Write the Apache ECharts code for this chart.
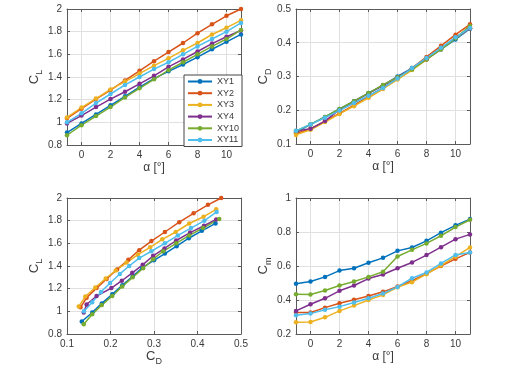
<!DOCTYPE html>
<html><head><meta charset="utf-8">
<script src="https://cdn.jsdelivr.net/npm/echarts@6/dist/echarts.min.js"></script>
<style>html,body{margin:0;padding:0;background:#fff}#c{width:519px;height:378px}</style>
</head><body><div id="c"></div>
<script>
const alpha = [-1,0,1,2,3,4,5,6,7,8,9,10,11];
const names = ['XY1','XY2','XY3','XY4','XY10','XY11'];
const colors = ['#0072BD','#D95319','#EDB120','#7E2F8E','#77AC30','#4DBEEE'];
const alphaTicks = [0,2,4,6,8,10];

const CL_XY1  = [0.91,0.99,1.07,1.15,1.23,1.31,1.385,1.45,1.51,1.575,1.645,1.71,1.776];
const CL_XY2  = [1.035,1.12,1.205,1.285,1.37,1.455,1.54,1.62,1.70,1.787,1.865,1.94,2.0];
const CL_XY3  = [1.043,1.13,1.21,1.29,1.36,1.43,1.50,1.565,1.635,1.70,1.775,1.835,1.90];
const CL_XY4  = [0.99,1.06,1.135,1.205,1.27,1.34,1.41,1.49,1.555,1.625,1.695,1.755,1.81];
const CL_XY10 = [0.886,0.975,1.055,1.135,1.22,1.30,1.38,1.46,1.53,1.60,1.67,1.735,1.815];
const CL_XY11 = [1.0,1.08,1.17,1.25,1.33,1.40,1.47,1.53,1.60,1.67,1.735,1.80,1.877];

const CD_XY1  = [0.134,0.158,0.18,0.204,0.227,0.251,0.273,0.300,0.325,0.352,0.380,0.410,0.4415];
const CD_XY2  = [0.131,0.145,0.168,0.191,0.215,0.241,0.266,0.294,0.325,0.358,0.391,0.424,0.4545];
const CD_XY3  = [0.127,0.142,0.165,0.189,0.212,0.237,0.263,0.291,0.319,0.350,0.381,0.414,0.443];
const CD_XY4  = [0.1385,0.145,0.168,0.202,0.226,0.250,0.274,0.298,0.324,0.351,0.383,0.415,0.443];
const CD_XY10 = [0.1385,0.158,0.18,0.204,0.227,0.251,0.275,0.298,0.321,0.351,0.381,0.413,0.450];
const CD_XY11 = [0.139,0.158,0.178,0.199,0.2215,0.243,0.266,0.294,0.325,0.355,0.385,0.416,0.444];

const CM_XY1  = [0.495,0.509,0.536,0.573,0.587,0.619,0.648,0.689,0.709,0.748,0.796,0.839,0.876];
const CM_XY2  = [0.326,0.326,0.355,0.381,0.402,0.424,0.448,0.479,0.513,0.555,0.600,0.642,0.680];
const CM_XY3  = [0.269,0.271,0.298,0.336,0.367,0.400,0.430,0.475,0.505,0.552,0.603,0.655,0.709];
const CM_XY4  = [0.336,0.375,0.410,0.454,0.485,0.526,0.550,0.587,0.621,0.664,0.711,0.758,0.786];
const CM_XY10 = [0.434,0.432,0.456,0.485,0.509,0.536,0.566,0.656,0.695,0.733,0.778,0.829,0.872];
const CM_XY11 = [0.310,0.320,0.343,0.361,0.385,0.410,0.438,0.477,0.528,0.562,0.615,0.665,0.680];

const CL = [CL_XY1,CL_XY2,CL_XY3,CL_XY4,CL_XY10,CL_XY11];
const CD = [CD_XY1,CD_XY2,CD_XY3,CD_XY4,CD_XY10,CD_XY11];
const CM = [CM_XY1,CM_XY2,CM_XY3,CM_XY4,CM_XY10,CM_XY11];

const axisColor = '#5a5a5a';
const labelColor = '#3a3a3a';
const font = 'Liberation Sans';
const rich = {
  a: {fontSize: 13, fontFamily: font, color: labelColor, lineHeight: 14, verticalAlign: 'bottom'},
  b: {fontSize: 9, fontFamily: font, color: labelColor, lineHeight: 9, verticalAlign: 'bottom', padding: [0,0,-3,0]},
  t: {fontSize: 12, fontFamily: font, color: labelColor}
};

const grids = [
  {left: 67, top: 9, width: 174, height: 136},
  {left: 296, top: 9, width: 174, height: 135},
  {left: 67, top: 198, width: 174, height: 136},
  {left: 296, top: 198, width: 174, height: 136}
];

function baseAxis(extra) {
  return Object.assign({
    type: 'value',
    axisLine: {show: true, onZero: false, lineStyle: {color: axisColor, width: 1}},
    axisTick: {show: true, inside: true, length: 3, lineStyle: {color: axisColor}},
    splitLine: {show: true, lineStyle: {color: '#e0e0e0', width: 1}},
    axisLabel: {color: labelColor, fontSize: 10, fontFamily: font, margin: 5},
    nameTextStyle: {rich: rich, color: labelColor},
  }, extra);
}
function mirror(a, pos) {
  const m = JSON.parse(JSON.stringify(a));
  m.position = pos;
  m.axisLabel.show = false;
  m.splitLine = {show: false};
  delete m.name;
  return m;
}

const alphaTick = {show:true, inside:true, length:3, lineStyle:{color:axisColor}, customValues: alphaTicks};
const alphaLabel = {color: labelColor, fontSize: 10, fontFamily: font, margin: 5, customValues: alphaTicks};
const xDefs = [
  {min: -1, max: 11, axisTick: alphaTick, axisLabel: alphaLabel, name: '{t|α [°]}', nameGap: 17},
  {min: -1, max: 11, axisTick: alphaTick, axisLabel: alphaLabel, name: '{t|α [°]}', nameGap: 17},
  {min: 0.1, max: 0.5, interval: 0.1, name: '{a|C}{b|D}', nameGap: 14},
  {min: -1, max: 11, axisTick: alphaTick, axisLabel: alphaLabel, name: '{t|α [°]}', nameGap: 17}
];
const yDefs = [
  {min: 0.8, max: 2, interval: 0.2, name: '{a|C}{b|L}'},
  {min: 0.1, max: 0.5, interval: 0.1, name: '{a|C}{b|D}'},
  {min: 0.8, max: 2, interval: 0.2, name: '{a|C}{b|L}'},
  {min: 0.2, max: 1, interval: 0.2, name: '{a|C}{b|m}'}
];

const xAxis = [], yAxis = [];
for (let g = 0; g < 4; g++) {
  const xa = baseAxis(Object.assign({gridIndex: g, position: 'bottom', nameLocation: 'middle'}, xDefs[g]));
  xAxis.push(xa);
  xAxis.push(mirror(xa, 'top'));
  const ya = baseAxis(Object.assign({gridIndex: g, position: 'left', nameLocation: 'middle', nameGap: 12, nameRotate: 90}, yDefs[g]));
  yAxis.push(ya);
  yAxis.push(mirror(ya, 'right'));
}

const series = [];
const panels = [
  {g: 0, xs: () => alpha, ys: CL},
  {g: 1, xs: () => alpha, ys: CD},
  {g: 2, xs: i => CD[i], ys: CL},
  {g: 3, xs: () => alpha, ys: CM}
];
panels.forEach(p => {
  names.forEach((n, i) => {
    const xs = p.xs(i);
    series.push({
      type: 'line', name: n, xAxisIndex: 2*p.g, yAxisIndex: 2*p.g,
      data: xs.map((x, k) => [x, p.ys[i][k]]),
      symbol: 'circle', symbolSize: 4.5, showSymbol: true,
      lineStyle: {width: 1.5, color: colors[i]},
      itemStyle: {color: colors[i]},
      emphasis: {disabled: true}, animation: false
    });
  });
});

const chart = echarts.init(document.getElementById('c'), null, {renderer: 'canvas'});
chart.setOption({
  animation: false,
  color: colors,
  grid: grids,
  xAxis: xAxis,
  yAxis: yAxis,
  legend: {
    data: names, orient: 'vertical', left: 184, top: 75,
    backgroundColor: '#fff', borderColor: '#444', borderWidth: 1,
    padding: [2, 3, 2, 3], itemWidth: 24, itemHeight: 6, itemGap: 2.7,
    textStyle: {fontSize: 9, fontFamily: font, color: labelColor, lineHeight: 8},
    selectedMode: false
  },
  series: series
});
</script></body></html>
